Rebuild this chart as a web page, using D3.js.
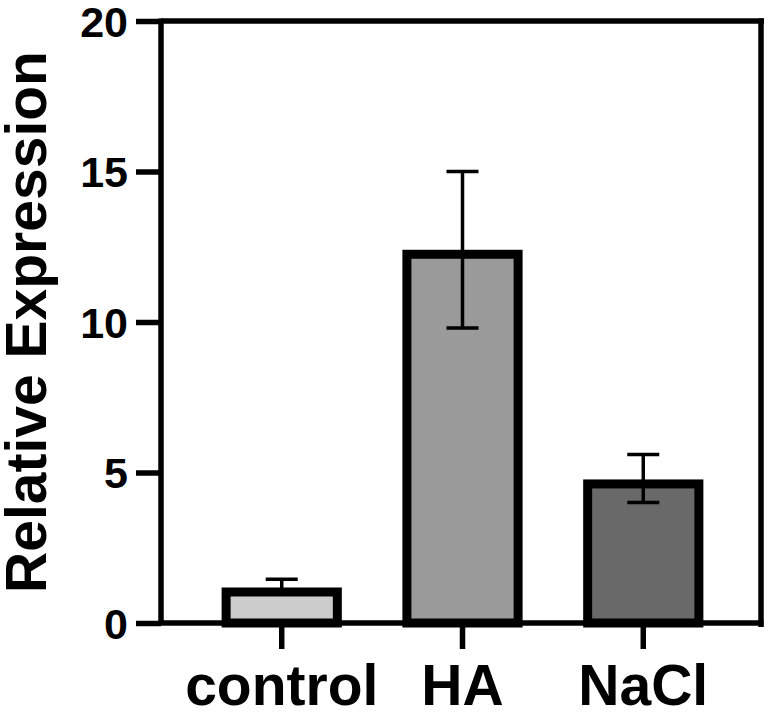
<!DOCTYPE html>
<html>
<head>
<meta charset="utf-8">
<script src="https://cdn.jsdelivr.net/npm/d3@7"></script>
<style>
  html, body { margin: 0; padding: 0; background: #ffffff; }
  svg { display: block; font-family: "Liberation Sans", Arial, sans-serif; font-weight: bold; }
</style>
</head>
<body>
<svg id="chart" width="772" height="717"></svg>
<script>
// ---- data ----
const categories = ["control", "HA", "NaCl"];
const means = [1.03, 12.25, 4.62];
const errUpper = [1.45, 15.0, 5.6];
const errLower = [1.03, 9.8, 4.0];
const barColors = ["#cbcbcb", "#9a9a9a", "#696969"];
const yTicks = [0, 5, 10, 15, 20];
const yLabel = "Relative Expression";

// ---- layout ----
const svg = d3.select("#chart");
const plotL = 161, plotR = 761, plotT = 21, plotB = 623;

const y = d3.scaleLinear().domain([0, 20]).range([plotB, plotT]);
const x = d3.scaleBand().domain(categories).range([plotL + 1.5, plotR + 1.5])
  .paddingInner(0.335).paddingOuter(0.327);

const barStroke = 9;

// bars
svg.append("g").selectAll("rect").data(categories).join("rect")
  .attr("x", d => x(d) + barStroke / 2)
  .attr("width", x.bandwidth() - barStroke)
  .attr("y", (d, i) => y(means[i]))
  .attr("height", (d, i) => y(0) - y(means[i]))
  .attr("fill", (d, i) => barColors[i])
  .attr("stroke", "#000")
  .attr("stroke-width", barStroke);

// error bars
const capW = 32;
const eg = svg.append("g").attr("stroke", "#000").attr("stroke-width", 3.5);
categories.forEach((c, i) => {
  const cx = x(c) + x.bandwidth() / 2;
  eg.append("line").attr("x1", cx).attr("x2", cx)
    .attr("y1", y(errLower[i])).attr("y2", y(errUpper[i]));
  eg.append("line").attr("x1", cx - capW / 2).attr("x2", cx + capW / 2)
    .attr("y1", y(errUpper[i])).attr("y2", y(errUpper[i]));
  if (errLower[i] < means[i]) {
    eg.append("line").attr("x1", cx - capW / 2).attr("x2", cx + capW / 2)
      .attr("y1", y(errLower[i])).attr("y2", y(errLower[i]));
  }
});

// frame: top and right
svg.append("line").attr("x1", plotL).attr("x2", plotR + 3)
  .attr("y1", plotT).attr("y2", plotT).attr("stroke", "#000").attr("stroke-width", 5.5);
svg.append("line").attr("x1", plotR).attr("x2", plotR)
  .attr("y1", plotT - 2.5).attr("y2", plotB + 4).attr("stroke", "#000").attr("stroke-width", 5.5);

// y axis
const yAxis = svg.append("g").attr("transform", `translate(${plotL},0)`)
  .call(d3.axisLeft(y).tickValues(yTicks).tickSize(25).tickSizeOuter(0).tickPadding(8));
yAxis.select(".domain").attr("stroke-width", 5.5).attr("d", `M0,${plotT - 2.5}V${plotB}`);
yAxis.selectAll(".tick line").attr("stroke-width", 5.5);
yAxis.selectAll(".tick text").attr("font-size", 43).attr("font-weight", "bold")
  .attr("font-family", "'Liberation Sans', Arial, sans-serif").attr("fill", "#000")
  .attr("dy", "0.36em");

// x axis
const xAxis = svg.append("g").attr("transform", `translate(0,${plotB})`)
  .call(d3.axisBottom(x).tickSize(26).tickSizeOuter(0).tickPadding(15));
xAxis.select(".domain").attr("stroke-width", 5.5).attr("d", `M${plotL},0H${plotR + 2.5}`);
xAxis.selectAll(".tick line").attr("stroke-width", 5.5);
xAxis.selectAll(".tick text").attr("font-size", 57).attr("font-weight", "bold")
  .attr("font-family", "'Liberation Sans', Arial, sans-serif").attr("fill", "#000")
  .attr("y", 82).attr("dy", 0);

// y label
svg.append("text")
  .attr("transform", `translate(46,${(plotT + plotB) / 2}) rotate(-90)`)
  .attr("text-anchor", "middle")
  .attr("font-size", 57)
  .attr("fill", "#000")
  .text(yLabel);
</script>
</body>
</html>
